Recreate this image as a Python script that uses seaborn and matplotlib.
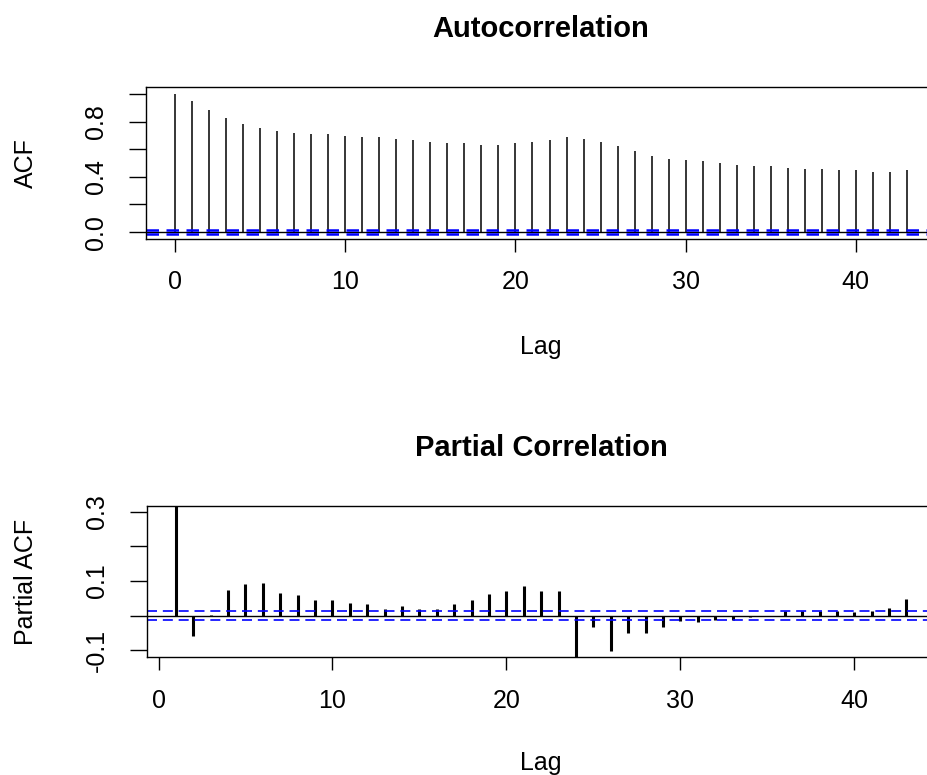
import numpy as np
import matplotlib
matplotlib.use("Agg")
import matplotlib.pyplot as plt
import seaborn as sns

# ACF values, lags 0..43
acf_lags = list(range(0, 44))
acf_vals = [1.00, 0.951, 0.884, 0.828, 0.785, 0.751, 0.730, 0.720, 0.708, 0.708,
            0.698, 0.686, 0.686, 0.676, 0.664, 0.655, 0.643, 0.643, 0.633, 0.633,
            0.643, 0.655, 0.664, 0.686, 0.674, 0.655, 0.621, 0.589, 0.553, 0.532,
            0.522, 0.512, 0.500, 0.488, 0.478, 0.478, 0.466, 0.457, 0.457, 0.447,
            0.447, 0.435, 0.435, 0.447]

# partial ACF values, lags 1..43
pacf_lags = list(range(1, 44))
pacf_vals = [0.317, -0.059, 0.002, 0.075, 0.090, 0.093, 0.066, 0.058, 0.044, 0.044,
             0.036, 0.032, 0.019, 0.028, 0.019, 0.019, 0.032, 0.044, 0.063, 0.071,
             0.084, 0.071, 0.071, -0.121, -0.033, -0.103, -0.051, -0.051, -0.033, -0.016,
             -0.020, -0.013, -0.013, -0.003, -0.002, 0.013, 0.012, 0.012, 0.012, 0.011,
             0.013, 0.023, 0.049]

ci = 0.013  # confidence bound, +/-

acf_yticks = [0.0, 0.2, 0.4, 0.6, 0.8, 1.0]
acf_ylabels = ["0.0", "", "0.4", "", "0.8", ""]
pacf_yticks = [-0.1, 0.0, 0.1, 0.2, 0.3]
pacf_ylabels = ["-0.1", "", "0.1", "", "0.3"]
xticks = [0, 10, 20, 30, 40]

sns.set_theme(style="white")
plt.rcParams['font.family'] = ['Liberation Sans', 'DejaVu Sans']
plt.rcParams['text.color'] = 'black'
plt.rcParams['axes.labelcolor'] = 'black'
plt.rcParams['xtick.color'] = 'black'
plt.rcParams['ytick.color'] = 'black'

fig = plt.figure(figsize=(9.28, 7.75), dpi=100)
ax1 = fig.add_axes([146 / 928, 1 - 239 / 775, 790 / 928, 152 / 775])
ax2 = fig.add_axes([146.7 / 928, 1 - 657.3 / 775, 789 / 928, 151.3 / 775])


def style_axes(ax, yticks, ylabels, ylabel, title):
    for s in ax.spines.values():
        s.set_color("black")
        s.set_linewidth(1.0)
    ax.set_xticks(xticks, [str(t) for t in xticks])
    ax.set_yticks(yticks, ylabels, rotation=90, va="center")
    ax.tick_params(axis="x", direction="out", length=9.5, width=1.0,
                   color="black", labelcolor="black", labelsize=18, pad=13, bottom=True)
    ax.tick_params(axis="y", direction="out", length=12, width=1.0,
                   color="black", labelcolor="black", labelsize=18, pad=15, left=True)
    ax.set_xlabel("Lag", fontsize=18, color="black")
    ax.set_ylabel(ylabel, fontsize=18, color="black")
    ax.set_title(title, fontsize=21, fontweight="bold", pad=36, color="black")
    ax.grid(False)


# top: autocorrelation
ax1.vlines(acf_lags, 0, acf_vals, color="black", lw=1.1)
ax1.axhline(0, color="black", lw=1.0)
ax1.axhline(ci, color="blue", lw=1.8, ls=(0, (5, 3)))
ax1.axhline(-ci, color="blue", lw=1.8, ls=(0, (5, 3)))
ax1.set_xlim(-0.04 * 43, 43 + 0.04 * 43)
ax1.set_ylim(-0.05, 1.05)
style_axes(ax1, acf_yticks, acf_ylabels, "ACF", "Autocorrelation")
ax1.xaxis.set_label_coords(395 / 790, -0.63)
ax1.yaxis.set_label_coords(-0.137, 0.5)

# bottom: partial autocorrelation
ax2.vlines(pacf_lags, 0, pacf_vals, color="black", lw=2.2)
ax2.axhline(0, color="black", lw=1.0)
ax2.axhline(ci, color="blue", lw=1.2, ls=(0, (6, 3.5)))
ax2.axhline(-ci, color="blue", lw=1.2, ls=(0, (6, 3.5)))
ax2.set_xlim(1 - 0.04 * 42, 43 + 0.04 * 42)
ax2.set_ylim(-0.121, 0.317)
style_axes(ax2, pacf_yticks, pacf_ylabels, "Partial ACF", "Partial Correlation")
ax2.xaxis.set_label_coords(394 / 789, -0.62)
ax2.yaxis.set_label_coords(-0.138, 0.5)

fig.savefig("out.png", dpi=100)
